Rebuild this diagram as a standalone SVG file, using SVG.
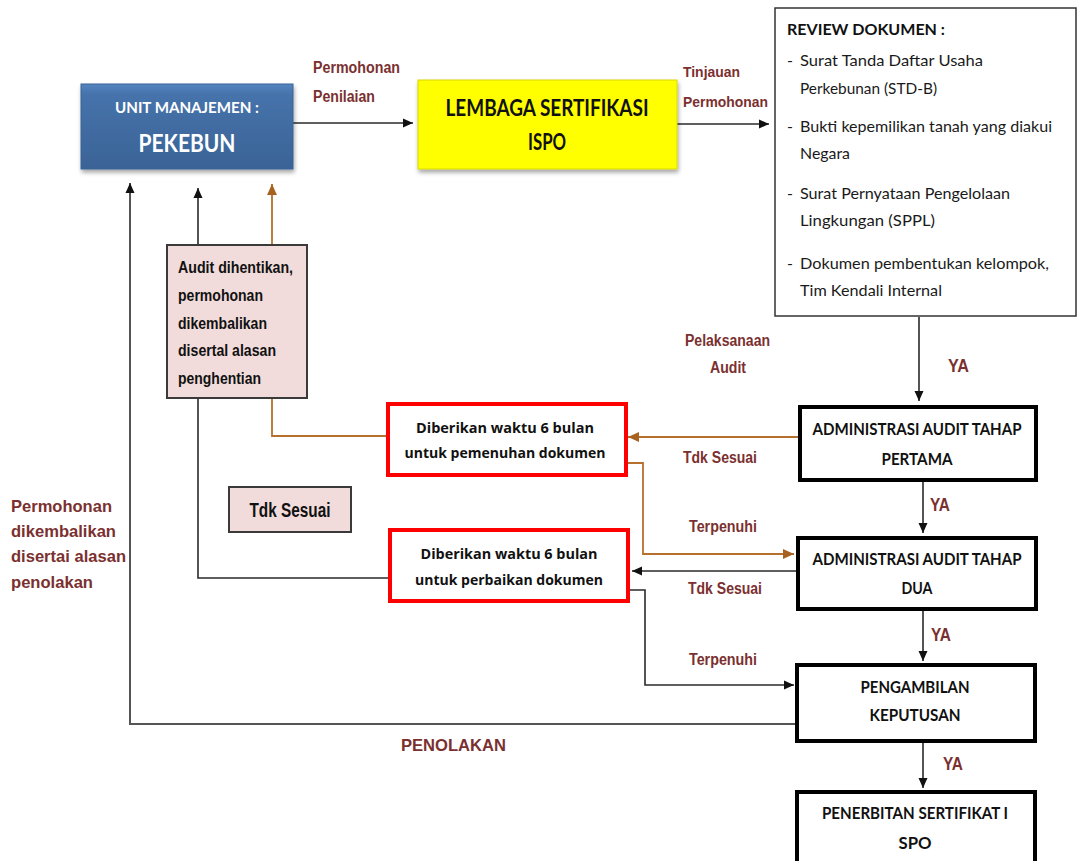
<svg xmlns="http://www.w3.org/2000/svg" width="1077" height="861" viewBox="0 0 1077 861">
<defs>
<style>
.lbl{font-family:"Liberation Sans",Arial,sans-serif;font-weight:bold;fill:#7b3030}
.cal{font-family:Lato,"Liberation Sans",sans-serif;fill:#1a1a1a}
.calb{font-family:Lato,"Liberation Sans",sans-serif;font-weight:bold;fill:#111}
.gth{font-family:"Open Sans","Liberation Sans",sans-serif;font-weight:bold;fill:#111}
.nar{font-family:"Liberation Sans",Arial,sans-serif;font-weight:bold;fill:#111}
.ln{fill:none;stroke:#2a2a2a;stroke-width:1.6}
.lo{fill:none;stroke:#b5702d;stroke-width:1.8}
.thick{fill:#fff;stroke:#000;stroke-width:4}
.red{fill:#fff;stroke:#ff0000;stroke-width:4}
.pink{fill:#f2dcdb;stroke:#3a3a3a;stroke-width:2}
</style>
<marker id="ab" viewBox="0 0 10 10" refX="10" refY="5" markerWidth="10" markerHeight="10" markerUnits="userSpaceOnUse" orient="auto">
<path d="M0,0.5 L10,5 L0,9.5 z" fill="#111"/>
</marker>
<marker id="ao" viewBox="0 0 10 10" refX="10" refY="5" markerWidth="11" markerHeight="11" markerUnits="userSpaceOnUse" orient="auto">
<path d="M0,0.5 L10,5 L0,9.5 z" fill="#a8621f"/>
</marker>
<linearGradient id="gb" x1="0" y1="0" x2="0" y2="1">
<stop offset="0" stop-color="#5585c0"/>
<stop offset="0.12" stop-color="#4673ab"/>
<stop offset="1" stop-color="#3a6396"/>
</linearGradient>
<filter id="sh" x="-10%" y="-10%" width="125%" height="130%">
<feDropShadow dx="1" dy="3" stdDeviation="2" flood-color="#000" flood-opacity="0.35"/>
</filter>
</defs>
<rect width="1077" height="861" fill="#fff"/>

<g id="connectors">
<line class="ln" x1="293" y1="123" x2="413" y2="123" marker-end="url(#ab)"/>
<line class="ln" x1="677" y1="124" x2="769" y2="124" marker-end="url(#ab)"/>
<line class="ln" x1="919" y1="317" x2="919" y2="401" marker-end="url(#ab)"/>
<line class="lo" x1="799" y1="437" x2="628" y2="437" marker-end="url(#ao)"/>
<polyline class="lo" points="626,463 643,463 643,554 794,554" marker-end="url(#ao)"/>
<polyline class="lo" points="388,436 272,436 272,184" marker-end="url(#ao)"/>
<line class="ln" x1="923" y1="481" x2="923" y2="533" marker-end="url(#ab)"/>
<line class="ln" x1="796" y1="571" x2="632" y2="571" marker-end="url(#ab)"/>
<polyline class="ln" points="390,578 198,578 198,188" marker-end="url(#ab)"/>
<polyline class="ln" points="629,590 645,590 645,685 794,685" marker-end="url(#ab)"/>
<line class="ln" x1="923" y1="610" x2="923" y2="661" marker-end="url(#ab)"/>
<polyline class="ln" points="796,724 130,724 130,183" style="stroke:#555;stroke-width:2" marker-end="url(#ab)"/>
<line class="ln" x1="923" y1="742" x2="923" y2="788" marker-end="url(#ab)"/>
<g id="connector-labels" class="lbl" font-size="16">
<text x="313" y="73" textLength="87" lengthAdjust="spacingAndGlyphs">Permohonan</text>
<text x="313" y="102" textLength="62" lengthAdjust="spacingAndGlyphs">Penilaian</text>
<text x="683" y="77" font-size="15" textLength="57" lengthAdjust="spacingAndGlyphs">Tinjauan</text>
<text x="683" y="107" font-size="15" textLength="85" lengthAdjust="spacingAndGlyphs">Permohonan</text>
<text x="685" y="346" textLength="85" lengthAdjust="spacingAndGlyphs">Pelaksanaan</text>
<text x="710" y="373" textLength="36" lengthAdjust="spacingAndGlyphs">Audit</text>
<text x="948" y="372" font-size="18" textLength="21" lengthAdjust="spacingAndGlyphs">YA</text>
<text x="683" y="463" textLength="74" lengthAdjust="spacingAndGlyphs">Tdk Sesuai</text>
<text x="930" y="511" font-size="18" textLength="20" lengthAdjust="spacingAndGlyphs">YA</text>
<text x="689" y="532" textLength="68" lengthAdjust="spacingAndGlyphs">Terpenuhi</text>
<text x="688" y="594" textLength="74" lengthAdjust="spacingAndGlyphs">Tdk Sesuai</text>
<text x="931" y="641" font-size="18" textLength="20" lengthAdjust="spacingAndGlyphs">YA</text>
<text x="689" y="665" textLength="68" lengthAdjust="spacingAndGlyphs">Terpenuhi</text>
<text x="401" y="751" font-size="17" textLength="105" lengthAdjust="spacingAndGlyphs">PENOLAKAN</text>
<text x="943" y="770" font-size="18" textLength="20" lengthAdjust="spacingAndGlyphs">YA</text>
<text x="11" y="512" font-size="17" textLength="101" lengthAdjust="spacingAndGlyphs">Permohonan</text>
<text x="11" y="537" font-size="17" textLength="105" lengthAdjust="spacingAndGlyphs">dikembalikan</text>
<text x="11" y="562" font-size="17" textLength="115" lengthAdjust="spacingAndGlyphs">disertai alasan</text>
<text x="11" y="588" font-size="17" textLength="82" lengthAdjust="spacingAndGlyphs">penolakan</text>
</g>
</g>

<g id="node-pekebun">
<rect x="81" y="84" width="212" height="85" fill="url(#gb)" stroke="#3a6396" stroke-width="1" filter="url(#sh)"/>
<text x="187" y="113" text-anchor="middle" font-family="Lato,'Liberation Sans',sans-serif" font-weight="bold" font-size="16" fill="#fff" textLength="144" lengthAdjust="spacingAndGlyphs">UNIT MANAJEMEN :</text>
<text x="187" y="152" text-anchor="middle" font-family="Lato,'Liberation Sans',sans-serif" font-weight="bold" font-size="25" fill="#fff" textLength="97" lengthAdjust="spacingAndGlyphs">PEKEBUN</text>
</g>

<g id="node-lembaga">
<rect x="418" y="80" width="259" height="89" fill="#ffff00" stroke="#d8d800" stroke-width="1" filter="url(#sh)"/>
<text class="calb" transform="translate(547,116) scale(1,1.15)" x="0" y="0" text-anchor="middle" font-size="20.5" textLength="203" lengthAdjust="spacingAndGlyphs">LEMBAGA SERTIFIKASI</text>
<text class="calb" transform="translate(547,150) scale(1,1.15)" x="0" y="0" text-anchor="middle" font-size="20.5" textLength="38" lengthAdjust="spacingAndGlyphs">ISPO</text>
</g>

<g id="node-review">
<rect x="775" y="8" width="301" height="308" fill="#fff" stroke="#333" stroke-width="1.5"/>
<text class="calb" x="787" y="35" font-size="16" textLength="158" lengthAdjust="spacingAndGlyphs">REVIEW DOKUMEN :</text>
<g class="cal" font-size="16">
<text x="787" y="66">-</text>
<text x="800" y="66" textLength="183" lengthAdjust="spacingAndGlyphs">Surat Tanda  Daftar Usaha</text>
<text x="800" y="94" textLength="137" lengthAdjust="spacingAndGlyphs">Perkebunan (STD-B)</text>
<text x="787" y="132">-</text>
<text x="800" y="132" textLength="252" lengthAdjust="spacingAndGlyphs">Bukti kepemilikan tanah yang diakui</text>
<text x="800" y="159" textLength="50" lengthAdjust="spacingAndGlyphs">Negara</text>
<text x="787" y="199">-</text>
<text x="800" y="199" textLength="210" lengthAdjust="spacingAndGlyphs">Surat Pernyataan Pengelolaan</text>
<text x="800" y="226" textLength="135" lengthAdjust="spacingAndGlyphs">Lingkungan (SPPL)</text>
<text x="787" y="269">-</text>
<text x="800" y="269" textLength="249" lengthAdjust="spacingAndGlyphs">Dokumen pembentukan kelompok,</text>
<text x="800" y="296" textLength="142" lengthAdjust="spacingAndGlyphs">Tim Kendali Internal</text>
</g>
</g>

<g id="node-audit-dihentikan">
<rect class="pink" x="167" y="245" width="140" height="153"/>
<g class="nar" font-size="17">
<text x="178" y="273" textLength="115" lengthAdjust="spacingAndGlyphs">Audit dihentikan,</text>
<text x="178" y="301" textLength="85" lengthAdjust="spacingAndGlyphs">permohonan</text>
<text x="178" y="329" textLength="89" lengthAdjust="spacingAndGlyphs">dikembalikan</text>
<text x="178" y="356" textLength="98" lengthAdjust="spacingAndGlyphs">disertal alasan</text>
<text x="178" y="384" textLength="83" lengthAdjust="spacingAndGlyphs">penghentian</text>
</g>
</g>

<g id="node-tdk-sesuai">
<rect class="pink" x="229" y="487" width="122" height="45"/>
<text class="nar" x="290" y="517" text-anchor="middle" font-size="20" textLength="81" lengthAdjust="spacingAndGlyphs">Tdk Sesuai</text>
</g>

<g id="node-waktu-pemenuhan">
<rect class="red" x="388" y="404" width="238" height="71"/>
<text class="gth" x="505" y="433" text-anchor="middle" font-size="15" textLength="178" lengthAdjust="spacingAndGlyphs">Diberikan waktu 6 bulan</text>
<text class="gth" x="505" y="458" text-anchor="middle" font-size="15" textLength="201" lengthAdjust="spacingAndGlyphs">untuk pemenuhan dokumen</text>
</g>

<g id="node-waktu-perbaikan">
<rect class="red" x="390" y="530" width="238" height="71"/>
<text class="gth" x="509" y="559" text-anchor="middle" font-size="15" textLength="177" lengthAdjust="spacingAndGlyphs">Diberikan waktu 6 bulan</text>
<text class="gth" x="509" y="585" text-anchor="middle" font-size="15" textLength="188" lengthAdjust="spacingAndGlyphs">untuk perbaikan dokumen</text>
</g>

<g id="node-admin-1">
<rect class="thick" x="800" y="407" width="236" height="73"/>
<text class="calb" x="917" y="435" text-anchor="middle" font-size="17" textLength="209" lengthAdjust="spacingAndGlyphs">ADMINISTRASI AUDIT TAHAP</text>
<text class="calb" x="917" y="465" text-anchor="middle" font-size="17" textLength="71" lengthAdjust="spacingAndGlyphs">PERTAMA</text>
</g>

<g id="node-admin-2">
<rect class="thick" x="798" y="538" width="238" height="71"/>
<text class="calb" x="917" y="565" text-anchor="middle" font-size="17" textLength="209" lengthAdjust="spacingAndGlyphs">ADMINISTRASI AUDIT TAHAP</text>
<text class="calb" x="917" y="594" text-anchor="middle" font-size="17" textLength="31" lengthAdjust="spacingAndGlyphs">DUA</text>
</g>

<g id="node-pengambilan">
<rect class="thick" x="797" y="665" width="238" height="76"/>
<text class="calb" x="915" y="693" text-anchor="middle" font-size="17" textLength="109" lengthAdjust="spacingAndGlyphs">PENGAMBILAN</text>
<text class="calb" x="915" y="721" text-anchor="middle" font-size="17" textLength="91" lengthAdjust="spacingAndGlyphs">KEPUTUSAN</text>
</g>

<g id="node-penerbitan">
<rect class="thick" x="797" y="792" width="238" height="80"/>
<text class="calb" x="915" y="819" text-anchor="middle" font-size="17" textLength="186" lengthAdjust="spacingAndGlyphs">PENERBITAN SERTIFIKAT I</text>
<text class="calb" x="915" y="849" text-anchor="middle" font-size="17" textLength="33" lengthAdjust="spacingAndGlyphs">SPO</text>
</g>
</svg>
